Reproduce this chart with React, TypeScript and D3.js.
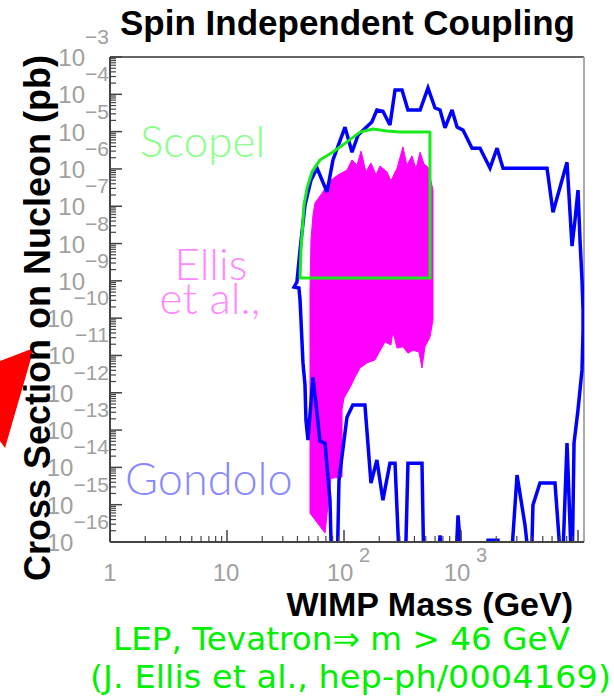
import React from "react";
import * as d3 from "d3";

// ---------- axis definitions ----------
const massDomain = [1, 11250];
const sigmaDomain = [1e-16, 1e-3];
const xMajorExponents = [0, 1, 2, 3, 4];
const xLabelExponents = [0, 1, 2, 3];
const yExponents = [-3, -4, -5, -6, -7, -8, -9, -10, -11, -12, -13, -14, -15, -16];
const minorMultipliers = [2, 3, 4, 5, 6, 7, 8, 9];

// ---------- Gondolo (blue contour, closed) ----------
const gondoloMass = [
  37.4, 39.6, 42.1, 46.4, 52.2, 58.8, 71.6, 80.5, 102, 117, 132, 173, 191, 215, 247, 273, 313, 352, 447, 522,
  600, 662, 730, 838, 925, 1040, 1242, 1453, 1770, 2032, 2286, 5433, 6112, 8055, 8886, 9425, 10000, 10400, 10820, 11040,
  11040, 10820, 10000, 9246, 8886, 8055, 7300, 6358, 4732, 4120, 3963, 3524, 3013, 2623, 2154, 2070, 1702, 1636, 1040, 943,
  889, 688, 662, 623, 483, 464, 352, 332, 301, 273, 247, 215, 191, 170, 151, 119, 106, 90.6, 87.1, 78.9,
  75.9, 68.8, 62.3, 57.6, 54.3, 49.2, 47.3, 46.4, 44.6, 42.1, 41.2,
];
const gondoloSigma = [
  6.8e-10, 9.3e-10, 6.8e-9, 1.07e-7, 5.0e-7, 1.05e-6, 2.4e-7, 1.74e-6, 1.32e-5, 2.8e-6, 8.1e-6, 1.82e-5, 3.8e-5, 3.5e-5, 1.51e-5, 1.3e-4, 1.3e-4, 3.8e-5, 3.8e-5, 1.48e-4,
  4.3e-5, 3.8e-5, 1.26e-5, 3.8e-5, 1.32e-5, 1.1e-5, 3.6e-6, 3.6e-6, 1.05e-6, 3.6e-6, 1.05e-6, 1.05e-6, 6.9e-8, 1.51e-6, 8.5e-9, 4.3e-8, 2.7e-7, 1.23e-8, 1.05e-9, 1.66e-10,
  4.8e-11, 4.1e-12, 3.5e-13, 4.5e-14, 1e-17, 4.5e-14, 1e-17, 3.8e-15, 3.8e-15, 9.8e-16, 1e-17, 2.8e-16, 6.2e-15, 1e-17, 1e-17, 1.12e-16, 1.12e-16, 1e-17, 1e-17, 5.2e-16,
  1e-17, 1e-17, 1.5e-16, 1e-17, 1e-17, 1.29e-14, 1.29e-14, 1e-17, 1e-17, 1.29e-14, 1.29e-14, 1.32e-15, 1.58e-14, 3.8e-15, 4.7e-13, 4.7e-13, 2.2e-13, 4.6e-15, 1e-17, 1e-17,
  1.32e-15, 4.5e-14, 5.0e-14, 5.2e-13, 2.6e-12, 5.4e-14, 1.86e-13, 1.62e-12, 6.3e-12, 3.1e-10, 6.4e-10,
];

// ---------- Scopel (green contour, closed) ----------
const scopelMass = [42.1, 42.9, 45.5, 48.3, 53.3, 62.3, 80.5, 106, 137, 177, 233, 301, 543, 543];
const scopelSigma = [1.19e-9, 6.8e-9, 1.07e-7, 3.1e-7, 8.3e-7, 1.74e-6, 2.84e-6, 5.3e-6, 9.7e-6, 1.17e-5, 1.04e-5, 9.7e-6, 9.7e-6, 1.19e-9];

// ---------- Ellis et al. (magenta region, closed) ----------
const ellisMass = [
  51.2, 51.2, 51.2, 52.2, 54.3, 56.5, 64.9, 75.9, 88.9, 106, 117, 129, 140, 154, 170, 188, 203, 233, 252, 284,
  319, 345, 381, 412, 447, 483, 522, 576, 576, 543, 492, 464, 438, 389, 352, 319, 284, 262, 252, 224,
  207, 184, 157, 137, 124, 113, 100, 96.2, 96.2, 77.4, 68.8,
];
const ellisSigma = [
  5.9e-16, 6.3e-13, 5.6e-10, 1.23e-8, 5.8e-8, 1.23e-7, 2.24e-7, 4.8e-7, 6.9e-7, 9.3e-7, 1.74e-6, 1.26e-6, 3.0e-6, 8.3e-7, 1.45e-6, 6.9e-7, 1.2e-6, 8.3e-7, 4.8e-7, 1.05e-6,
  3.9e-6, 1.26e-6, 2.24e-6, 1.0e-6, 2.8e-6, 1.35e-6, 1.12e-6, 2.7e-7, 8.9e-11, 3.1e-11, 1.7e-11, 4.6e-12, 1.23e-11, 1.38e-11, 1.15e-11, 1.7e-11, 1.58e-11, 4.3e-11, 1.91e-11, 2.3e-11,
  1.48e-11, 7.6e-12, 6.3e-12, 4.6e-12, 2.6e-12, 1.41e-12, 7.2e-13, 3.5e-13, 5.5e-15, 5.1e-15, 1.74e-16,
];

const PL = 110, PR = 584, PT = 57, PB = 542;

export default function App() {
  const x = d3.scaleLog().domain(massDomain).range([PL, PR]);
  const y = d3.scaleLog().domain(sigmaDomain).range([PB, PT]);
  const line = d3
    .line<[number, number]>()
    .x((d) => x(d[0]))
    .y((d) => y(d[1]));
  const pts = (m: number[], s: number[]) => m.map((v, i) => [v, s[i]] as [number, number]);

  const gondoloPath = line(pts(gondoloMass, gondoloSigma)) + "Z";
  const scopelPath = line(pts(scopelMass, scopelSigma)) + "Z";
  const ellisPath = line(pts(ellisMass, ellisSigma)) + "Z";

  const yMinor: number[] = [];
  yExponents.slice(1).forEach((e) => minorMultipliers.forEach((m) => yMinor.push(m * Math.pow(10, e))));
  const xMinor: number[] = [];
  xMajorExponents.forEach((e) =>
    minorMultipliers.forEach((m) => {
      const v = m * Math.pow(10, e);
      if (v < massDomain[1]) xMinor.push(v);
    })
  );

  const tickCol = "#444";
  const labCol = "#a0a0a0";
  const sans = "'Liberation Sans', Arial, sans-serif";
  const light = "Lato, 'Liberation Sans', sans-serif";

  return (
    <svg width={614} height={700} style={{ position: "absolute", left: 0, top: 0, background: "#fff" }}>
      <defs>
        <clipPath id="plotClip">
          <rect x={PL} y={PT} width={PR - PL} height={PB - PT} />
        </clipPath>
      </defs>
      <rect x={0} y={0} width={614} height={700} fill="#fff" />

      {/* red arrow head (annotation) */}
      <polygon points="34,348 0,361 0,441 5,448" fill="#ff0000" />

      {/* frame */}
      <line x1={PL} x2={PR} y1={PT} y2={PT} stroke="#666" strokeWidth={2} />
      <line x1={PR} x2={PR} y1={PT} y2={PB} stroke="#aaa" strokeWidth={2} />

      {/* data */}
      <g clipPath="url(#plotClip)">
        <path d={ellisPath} fill="#ff00ff" stroke="#ff00ff" strokeWidth={1} />
        <path d={gondoloPath} fill="none" stroke="#0000ff" strokeWidth={3.5} strokeLinejoin="miter" strokeMiterlimit={3} />
        <path d={scopelPath} fill="none" stroke="#1aea1a" strokeWidth={3} strokeLinejoin="round" />
      </g>

      {/* y ticks */}
      {yExponents.map((e) => (
        <line key={"ym" + e} x1={PL} x2={PL + 12} y1={y(Math.pow(10, e))} y2={y(Math.pow(10, e))} stroke={tickCol} strokeWidth={1.5} />
      ))}
      {yMinor.map((v, i) => (
        <line key={"yn" + i} x1={PL} x2={PL + 6} y1={y(v)} y2={y(v)} stroke={tickCol} strokeWidth={1.2} />
      ))}
      {/* x ticks */}
      {xMajorExponents.map((e) => (
        <line key={"xm" + e} x1={x(Math.pow(10, e))} x2={x(Math.pow(10, e))} y1={PB} y2={PB - 12} stroke={tickCol} strokeWidth={1.5} />
      ))}
      {xMinor.map((v, i) => (
        <line key={"xn" + i} x1={x(v)} x2={x(v)} y1={PB} y2={PB - 6} stroke={tickCol} strokeWidth={1.2} />
      ))}
      {/* axes */}
      <line x1={PL} x2={PL} y1={PT} y2={PB} stroke={tickCol} strokeWidth={2} />
      <line x1={PL} x2={PR} y1={PB} y2={PB} stroke={tickCol} strokeWidth={2} />

      {/* y tick labels */}
      {yExponents.map((e) => {
        const ty = y(Math.pow(10, e));
        return (
          <text key={"yl" + e} x={109} y={ty + 9} textAnchor="end" fontFamily={sans} fontSize={24} fill={labCol}>
            10
            <tspan dy={-22} fontSize={21}>
              {"\u2212" + Math.abs(e)}
            </tspan>
          </text>
        );
      })}

      {/* x tick labels */}
      {xLabelExponents.map((e) => {
        const tx = x(Math.pow(10, e));
        if (e === 0)
          return (
            <text key={"xl" + e} x={tx} y={581} textAnchor="middle" fontFamily={sans} fontSize={24} fill={labCol}>
              1
            </text>
          );
        if (e === 1)
          return (
            <text key={"xl" + e} x={tx - 1} y={581} textAnchor="middle" fontFamily={sans} fontSize={24} fill={labCol}>
              10
            </text>
          );
        return (
          <g key={"xl" + e}>
            <text x={tx - 4} y={581} textAnchor="middle" fontFamily={sans} fontSize={24} fill={labCol}>
              10
            </text>
            <text x={tx + 15} y={562} textAnchor="start" fontFamily={sans} fontSize={20} fill={labCol}>
              {e}
            </text>
          </g>
        );
      })}

      {/* legend labels */}
      <text x={140} y={157} fontFamily={light} fontWeight={300} fontSize={44} fill="#88ff88">
        Scopel
      </text>
      <text x={211} y={280} textAnchor="middle" fontFamily={light} fontWeight={300} fontSize={44} fill="#ff88ff">
        Ellis
      </text>
      <text x={210} y={314} textAnchor="middle" fontFamily={light} fontWeight={300} fontSize={44} fill="#ff88ff">
        et al.,
      </text>
      <text x={125} y={495} fontFamily={light} fontWeight={300} fontSize={45} fill="#8888ff">
        Gondolo
      </text>

      {/* titles */}
      <text x={120} y={35} fontFamily={sans} fontWeight="bold" fontSize={35} fill="#000">
        Spin Independent Coupling
      </text>
      <text transform="translate(50,318) rotate(-90)" textAnchor="middle" fontFamily={sans} fontWeight="bold" fontSize={36} fill="#000">
        Cross Section on Nucleon (pb)
      </text>
      <text x={573} y={616} textAnchor="end" fontFamily={sans} fontWeight="bold" fontSize={34} fill="#000">
        WIMP Mass (GeV)
      </text>

      {/* bottom notes */}
      <text x={113} y={650} fontFamily="'DejaVu Sans', sans-serif" fontSize={32} fill="#00f000" textLength={457} lengthAdjust="spacingAndGlyphs">
        LEP, Tevatron⇒ m &gt; 46 GeV
      </text>
      <text x={90} y={688} fontFamily="'DejaVu Sans', sans-serif" fontSize={32} fill="#00f000" textLength={521} lengthAdjust="spacingAndGlyphs">
        (J. Ellis et al., hep-ph/0004169)
      </text>
    </svg>
  );
}
